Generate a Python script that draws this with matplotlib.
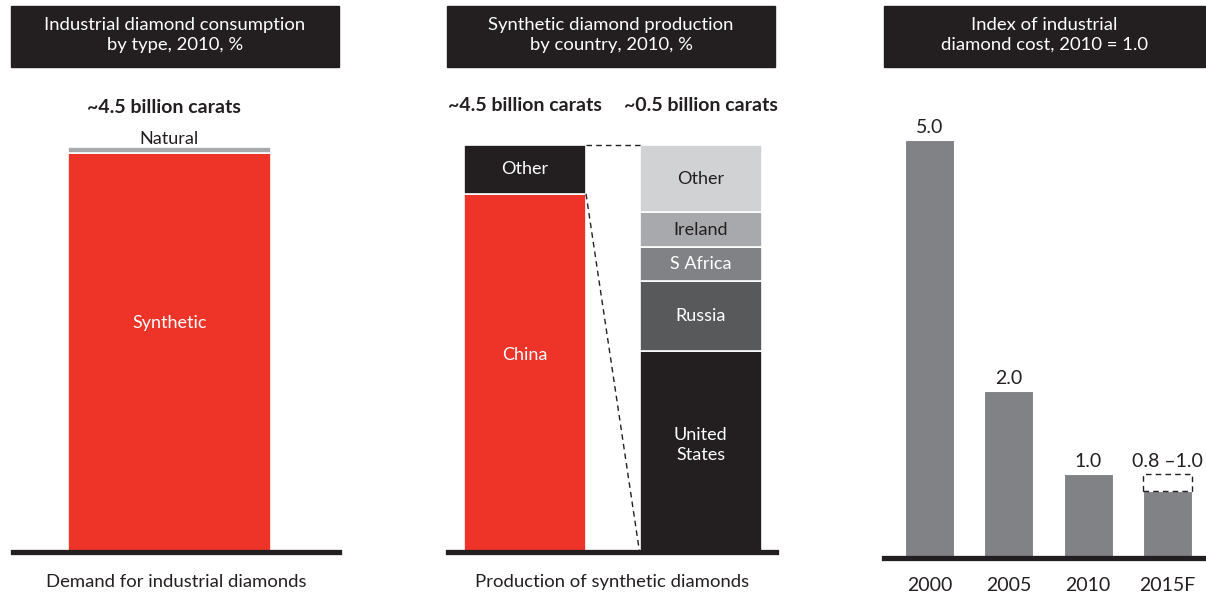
import numpy as np
import matplotlib.pyplot as plt
from matplotlib.patches import Rectangle

plt.rcParams['font.family'] = ['Lato', 'DejaVu Sans']

# Data
consumption_types = ['Synthetic', 'Natural']
consumption_share = [98.5, 1.5]

china_split = ['China', 'Other']
china_share = [88, 12]

other_countries = ['United\nStates', 'Russia', 'S Africa', 'Ireland', 'Other']
other_share = [49.5, 17.2, 8.2, 8.6, 16.5]

years = ['2000', '2005', '2010', '2015F']
cost_index = [5.0, 2.0, 1.0, 0.8]
cost_high_2015 = 1.0
cost_labels = ['5.0', '2.0', '1.0', '0.8 \u20131.0']

# Colours
RED = '#ee3429'
DARK = '#231f20'
GREYS = [DARK, '#58595b', '#808285', '#a7a9ac', '#d1d2d4']
GREY_BAR = '#808285'

W, H = 1206, 598
fig = plt.figure(figsize=(W / 100, H / 100), dpi=100)


def px_axes(left, top, right, bottom):
    ax = fig.add_axes([left / W, 1 - bottom / H, (right - left) / W, (bottom - top) / H])
    for s in ['top', 'right', 'left']:
        ax.spines[s].set_visible(False)
    ax.spines['bottom'].set_linewidth(3.8)
    ax.spines['bottom'].set_color(DARK)
    ax.set_yticks([])
    ax.tick_params(axis='x', length=0)
    ax.patch.set_alpha(0)
    return ax


def title_box(left, right, text):
    fig.patches.append(Rectangle((left / W, 1 - 67 / H), (right - left) / W, 61 / H,
                                 transform=fig.transFigure, color=DARK, zorder=0))
    fig.text((left + right) / 2 / W, 1 - 35 / H, text, ha='center', va='center',
             color='white', fontsize=13.3, linespacing=1.3)


title_box(11, 339, 'Industrial diamond consumption\nby type, 2010, %')
title_box(447, 775, 'Synthetic diamond production\nby country, 2010, %')
title_box(884, 1205, 'Index of industrial\ndiamond cost, 2010 = 1.0')

# ---- Panel 1: consumption by type
ax1 = px_axes(13, 147, 339, 552)
ax1.set_xlim(-0.769, 0.836)
ax1.set_ylim(0, 100)
ax1.bar(0, consumption_share[0], width=1, color=RED, edgecolor='white', linewidth=1.2)
ax1.bar(0, consumption_share[1], bottom=consumption_share[0], width=1,
        color='#a7a9ac', edgecolor='white', linewidth=1.2)
ax1.text(0, consumption_share[0] * 0.574, consumption_types[0], ha='center', va='center',
         color='white', fontsize=13)
ax1.annotate(consumption_types[1], (0, 100), xytext=(0, 0), textcoords='offset points',
             ha='center', va='bottom', color=DARK, fontsize=13, annotation_clip=False)
ax1.annotate('~4.5 billion carats', (0, 100), xytext=(-4, 22), textcoords='offset points',
             ha='center', va='bottom', color=DARK, fontsize=14, fontweight='bold',
             annotation_clip=False)
ax1.set_xticks([])
ax1.set_xlabel('Demand for industrial diamonds', fontsize=13.3, color=DARK, labelpad=16)

# ---- Panel 2: production by country
bw = 0.695
ax2 = px_axes(448, 145, 776, 552)
ax2.set_xlim(-0.439, 1.430)
ax2.set_ylim(0, 100)
ax2.bar(0, china_share[0], width=bw, color=RED, edgecolor='white', linewidth=1.2)
ax2.bar(0, china_share[1], bottom=china_share[0], width=bw, color=DARK,
        edgecolor='white', linewidth=1.2)
ax2.text(0, china_share[0] * 0.55, china_split[0], ha='center', va='center',
         color='white', fontsize=13)
ax2.text(0, china_share[0] + china_share[1] / 2, china_split[1], ha='center', va='center',
         color='white', fontsize=13)

bottom = 0
for name, share, col in zip(other_countries, other_share, GREYS):
    ax2.bar(1, share, bottom=bottom, width=bw, color=col, edgecolor='white', linewidth=1.2)
    tc = DARK if col in ('#a7a9ac', '#d1d2d4') else 'white'
    yc = bottom + share * (0.53 if '\n' in name else 0.5)
    ax2.text(1, yc, name, ha='center', va='center', color=tc,
             fontsize=13, linespacing=1.35)
    bottom += share

# zoom lines from China "Other" to breakdown
ax2.plot([bw / 2, 1 - bw / 2], [100, 100], color=DARK, lw=1, ls=(0, (4, 3)), clip_on=False)
ax2.plot([bw / 2, 1 - bw / 2], [china_share[0], 0], color=DARK, lw=1, ls=(0, (4, 3)),
         clip_on=False)

ax2.annotate('~4.5 billion carats', (0, 100), xytext=(0, 22), textcoords='offset points',
             ha='center', va='bottom', color=DARK, fontsize=14, fontweight='bold',
             annotation_clip=False)
ax2.annotate('~0.5 billion carats', (1, 100), xytext=(0, 22), textcoords='offset points',
             ha='center', va='bottom', color=DARK, fontsize=14, fontweight='bold',
             annotation_clip=False)
ax2.set_xticks([])
ax2.set_xlabel('Production of synthetic diamonds', fontsize=13.3, color=DARK, labelpad=16)

# ---- Panel 3: cost index
ax3 = px_axes(884, 100, 1206, 558)
x = np.arange(len(years))
bw3 = 0.62
ax3.set_xlim(-0.574, 3.485)
ax3.set_ylim(0, 5.48)
ax3.bar(x, cost_index, width=bw3, color=GREY_BAR, edgecolor='white', linewidth=0.8)
ax3.add_patch(Rectangle((x[-1] - bw3 / 2, cost_index[-1]), bw3, cost_high_2015 - cost_index[-1],
                        fill=False, edgecolor=DARK, lw=1, ls=(0, (4, 3))))
tops = cost_index[:-1] + [cost_high_2015]
for xi, top, lab in zip(x, tops, cost_labels):
    ax3.annotate(lab, (xi, top), xytext=(0, 3), textcoords='offset points',
                 ha='center', va='bottom', color=DARK, fontsize=14)
ax3.set_xticks(x)
ax3.set_xticklabels(years, fontsize=14, color=DARK)
ax3.tick_params(axis='x', pad=14)

fig.savefig('out.png', dpi=100)
